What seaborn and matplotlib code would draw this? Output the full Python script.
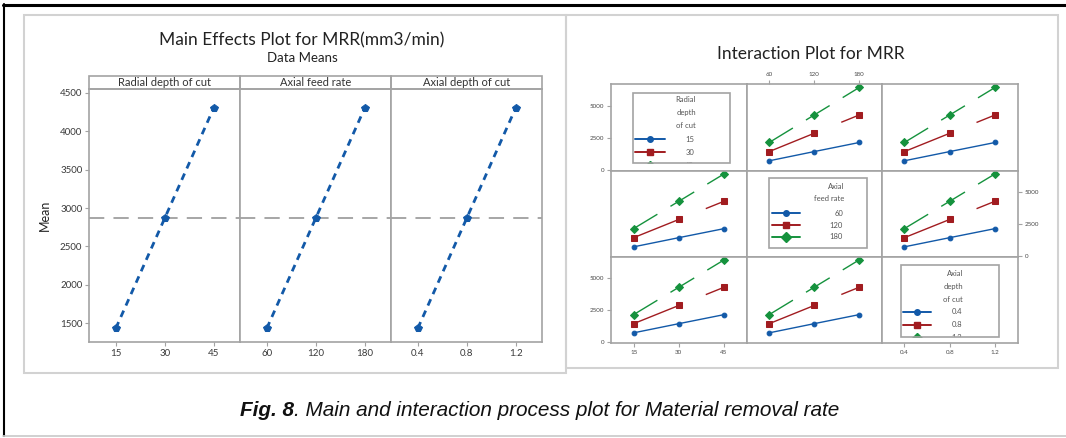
import matplotlib
matplotlib.use("Agg")
import matplotlib.pyplot as plt
from matplotlib.patches import Rectangle
from matplotlib.lines import Line2D
import seaborn as sns

sns.set_style("white")
plt.rcParams['font.family'] = ['Lato', 'DejaVu Sans']

W, H = 1066, 438

# ---------------- data ----------------
factor_names = ['Radial depth of cut', 'Axial feed rate', 'Axial depth of cut']
radial_levels = [15, 30, 45]
feed_levels = [60, 120, 180]
depth_levels = [0.4, 0.8, 1.2]
radial_labels = ['15', '30', '45']
feed_labels = ['60', '120', '180']
depth_labels = ['0.4', '0.8', '1.2']

# main effects (data means of MRR, mm3/min)
radial_means = [1435, 2870, 4305]
feed_means = [1435, 2870, 4305]
depth_means = [1435, 2870, 4305]
grand_mean = 2870
main_yticks = [1500, 2000, 2500, 3000, 3500, 4000, 4500]

# interaction plot: MRR means of trace level 1 / 2 / 3 along the x factor
trace_low = [720, 1440, 2150]
trace_mid = [1440, 2870, 4300]
trace_high = [2150, 4300, 6450]
inter_yticks = [0, 2500, 5000]
inter_ylabels = ['0', '2500', '5000']
key_titles = [['Radial', 'depth', 'of cut'], ['Axial', 'feed rate'], ['Axial', 'depth', 'of cut']]

BLUE = '#1259A8'
RED = '#A11C20'
GREEN = '#15923D'
FRAME = '#A3A3A3'
TXT = '#3A3A3A'


def rect(x0, y0, x1, y1):
    return [x0 / W, 1 - y1 / H, (x1 - x0) / W, (y1 - y0) / H]


fig = plt.figure(figsize=(W / 100, H / 100), dpi=100)


def fig_line(xs, ys, **kw):
    fig.add_artist(Line2D([x / W for x in xs], [1 - y / H for y in ys],
                          transform=fig.transFigure, **kw))


def fig_box(x0, y0, x1, y1, **kw):
    fig.add_artist(Rectangle((x0 / W, 1 - y1 / H), (x1 - x0) / W, (y1 - y0) / H,
                             transform=fig.transFigure, fill=False, **kw))


# outer frame and the two light panels
fig_line([3.5, 3.5], [4, 436], color='black', lw=1.5)
fig_line([3, 1066], [4.5, 4.5], color='black', lw=2.2)
fig_line([3, 1066], [436, 436], color='#C8C8C8', lw=1.2)
fig_box(24, 15, 566, 373, ec='#D2D2D2', lw=1.5)
fig_box(566, 15, 1058, 368, ec='#D2D2D2', lw=1.5)

# ---------------- main effects plot ----------------
fig.text(302 / W, 1 - 40 / H, 'Main Effects Plot for MRR(mm3/min)', ha='center', va='center',
         fontsize=12.5, color='#222222')
fig.text(302 / W, 1 - 58 / H, 'Data Means', ha='center', va='center', fontsize=9.5, color='#222222')
fig.text(45 / W, 1 - 215 / H, 'Mean', ha='center', va='center', rotation=90, fontsize=9,
         color='#222222')

all_levels = [radial_levels, feed_levels, depth_levels]
all_labels = [radial_labels, feed_labels, depth_labels]
all_means = [radial_means, feed_means, depth_means]

px0, pw, ptop, pbot = 89.3, 151.0, 89.0, 341.7
for i in range(3):
    ax = fig.add_axes(rect(px0 + i * pw, ptop, px0 + (i + 1) * pw, pbot))
    lv = all_levels[i]
    sns.lineplot(x=lv, y=all_means[i], ax=ax, color=BLUE, lw=2.0, ls=(0, (2.5, 2.0)),
                 marker='p', ms=5.5, mec=BLUE)
    ax.axhline(grand_mean, color='#8E8E8E', lw=1.1, ls=(0, (10, 6)), zorder=0)
    span = lv[2] - lv[0]
    ax.set_xlim(lv[0] - 0.27 * span, lv[2] + 0.27 * span)
    ax.set_ylim(1262, 4548)
    ax.set_xticks(lv, all_labels[i])
    ax.set_yticks(main_yticks)
    ax.set_xlabel('')
    ax.set_ylabel('')
    ax.tick_params(direction='out', length=3, width=0.8, color=FRAME, labelsize=7,
                   labelcolor=TXT, pad=2, bottom=True, left=(i == 0), labelleft=(i == 0))
    for s in ax.spines.values():
        s.set_color(FRAME)
        s.set_linewidth(1.2)
    hh = 13 / (pbot - ptop)
    ax.add_patch(Rectangle((0, 1), 1, hh, transform=ax.transAxes, clip_on=False,
                           fill=False, ec=FRAME, lw=1.2))
    ax.text(0.5, 1 + hh / 2, factor_names[i], transform=ax.transAxes, ha='center',
            va='center', fontsize=8, color='#333333')

# ---------------- interaction plot ----------------
fig.text(811 / W, 1 - 54 / H, 'Interaction Plot for MRR', ha='center', va='center',
         fontsize=12.5, color='#222222')

xe = [611, 746.7, 881.7, 1017.7]
ye = [84.3, 170.7, 256.7, 342.7]
traces = [trace_low, trace_mid, trace_high]
colors = [BLUE, RED, GREEN]
markers = ['o', 's', 'D']
msizes = [3.4, 4.0, 4.0]
styles = ['-', (0, (37, 19)), (0, (20, 11))]

keys = [
    dict(box=(633, 93, 730, 163.3), tx=696, ty=[100, 113, 126], lx=(635, 665),
         ey=[139, 152.3, 165.5], labx=694),
    dict(box=(769.3, 178.3, 867.3, 247.7), tx=844, ty=[186.7, 198.3], lx=(772, 800),
         ey=[213.3, 225, 236.7], labx=843),
    dict(box=(900.7, 265, 999, 336.5), tx=963, ty=[273.3, 286, 299.3], lx=(903, 931),
         ey=[312, 324.7, 337.5], labx=962),
]


def draw_key(ax, ext, k, title_lines, names):
    X0, Y0, X1, Y1 = ext

    def fx(p):
        return (p - X0) / (X1 - X0)

    def fy(p):
        return (Y1 - p) / (Y1 - Y0)

    b = k['box']
    box = Rectangle((fx(b[0]), fy(b[3])), fx(b[2]) - fx(b[0]), fy(b[1]) - fy(b[3]),
                    transform=ax.transAxes, fill=False, ec=FRAME, lw=1.2, zorder=5)
    ax.add_patch(box)
    for t, yy in zip(title_lines, k['ty']):
        ax.text(fx(k['tx']), fy(yy), t, transform=ax.transAxes, ha='right', va='center',
                fontsize=5.5, color='#555555')
    for j in range(3):
        yy = fy(k['ey'][j])
        ln = Line2D([fx(k['lx'][0]), fx(k['lx'][1])], [yy, yy], transform=ax.transAxes,
                    color=colors[j], lw=1.4)
        mk = Line2D([(fx(k['lx'][0]) + fx(k['lx'][1])) / 2], [yy], transform=ax.transAxes,
                    color=colors[j], marker=markers[j], ms=msizes[j] + 0.6, mec=colors[j])
        tx = ax.text(fx(k['labx']), yy, names[j], transform=ax.transAxes, ha='right',
                     va='center', fontsize=5.5, color='#555555', clip_on=True)
        for a in (ln, mk):
            ax.add_line(a)
            a.set_clip_path(box)
        tx.set_clip_path(box)
        tx.set_clip_on(True)


for r in range(3):
    for c in range(3):
        ext = (xe[c], ye[r], xe[c + 1], ye[r + 1])
        ax = fig.add_axes(rect(*ext))
        lv = all_levels[c]
        if r != c:
            for vals, col, mk, ms, ls in zip(traces, colors, markers, msizes, styles):
                sns.lineplot(x=lv, y=vals, ax=ax, color=col, lw=1.0, ls=ls, marker=mk,
                             ms=ms, mec=col)
        else:
            draw_key(ax, ext, keys[r], key_titles[r], all_labels[r])
        span = lv[2] - lv[0]
        ax.set_xlim(lv[0] - 0.25 * span, lv[2] + 0.25 * span)
        ax.set_ylim(-55, 6700)
        ax.set_xticks(lv, all_labels[c])
        ax.set_yticks(inter_yticks, inter_ylabels)
        ax.set_xlabel('')
        ax.set_ylabel('')
        ax.tick_params(bottom=False, top=False, left=False, right=False,
                       labelbottom=False, labeltop=False, labelleft=False, labelright=False,
                       direction='out', length=3, width=0.8, color=FRAME, labelsize=4.5,
                       labelcolor='#4A4A4A', pad=2)
        if r == 0 and c == 1:
            ax.tick_params(top=True, labeltop=True)
        if r == 2 and c in (0, 2):
            ax.tick_params(bottom=True, labelbottom=True)
        if c == 0 and r in (0, 2):
            ax.tick_params(left=True, labelleft=True)
        if c == 2 and r == 1:
            ax.tick_params(right=True, labelright=True)
        for s in ax.spines.values():
            s.set_color(FRAME)
            s.set_linewidth(1.2)

# ---------------- caption ----------------
cap_font = ['Liberation Sans', 'DejaVu Sans']
renderer = fig.canvas.get_renderer()
t1 = fig.text(0, 1 - 410 / H, 'Fig. 8', family=cap_font, weight='bold', style='italic',
              fontsize=13.5, va='center', ha='left', color='#111111')
t2 = fig.text(0, 1 - 410 / H, '. Main and interaction process plot for Material removal rate',
              family=cap_font, style='italic', fontsize=13.5, va='center', ha='left',
              color='#111111')
# scale the caption so it spans about the same width as in the figure
w_all = t1.get_window_extent(renderer).width + t2.get_window_extent(renderer).width
size = 13.5 * 600 / w_all
t1.set_fontsize(size)
t2.set_fontsize(size)
w1 = t1.get_window_extent(renderer).width
w2 = t2.get_window_extent(renderer).width
start = 540 - (w1 + w2) / 2
t1.set_x(start / W)
t2.set_x((start + w1) / W)

fig.savefig('out.png', dpi=100)
